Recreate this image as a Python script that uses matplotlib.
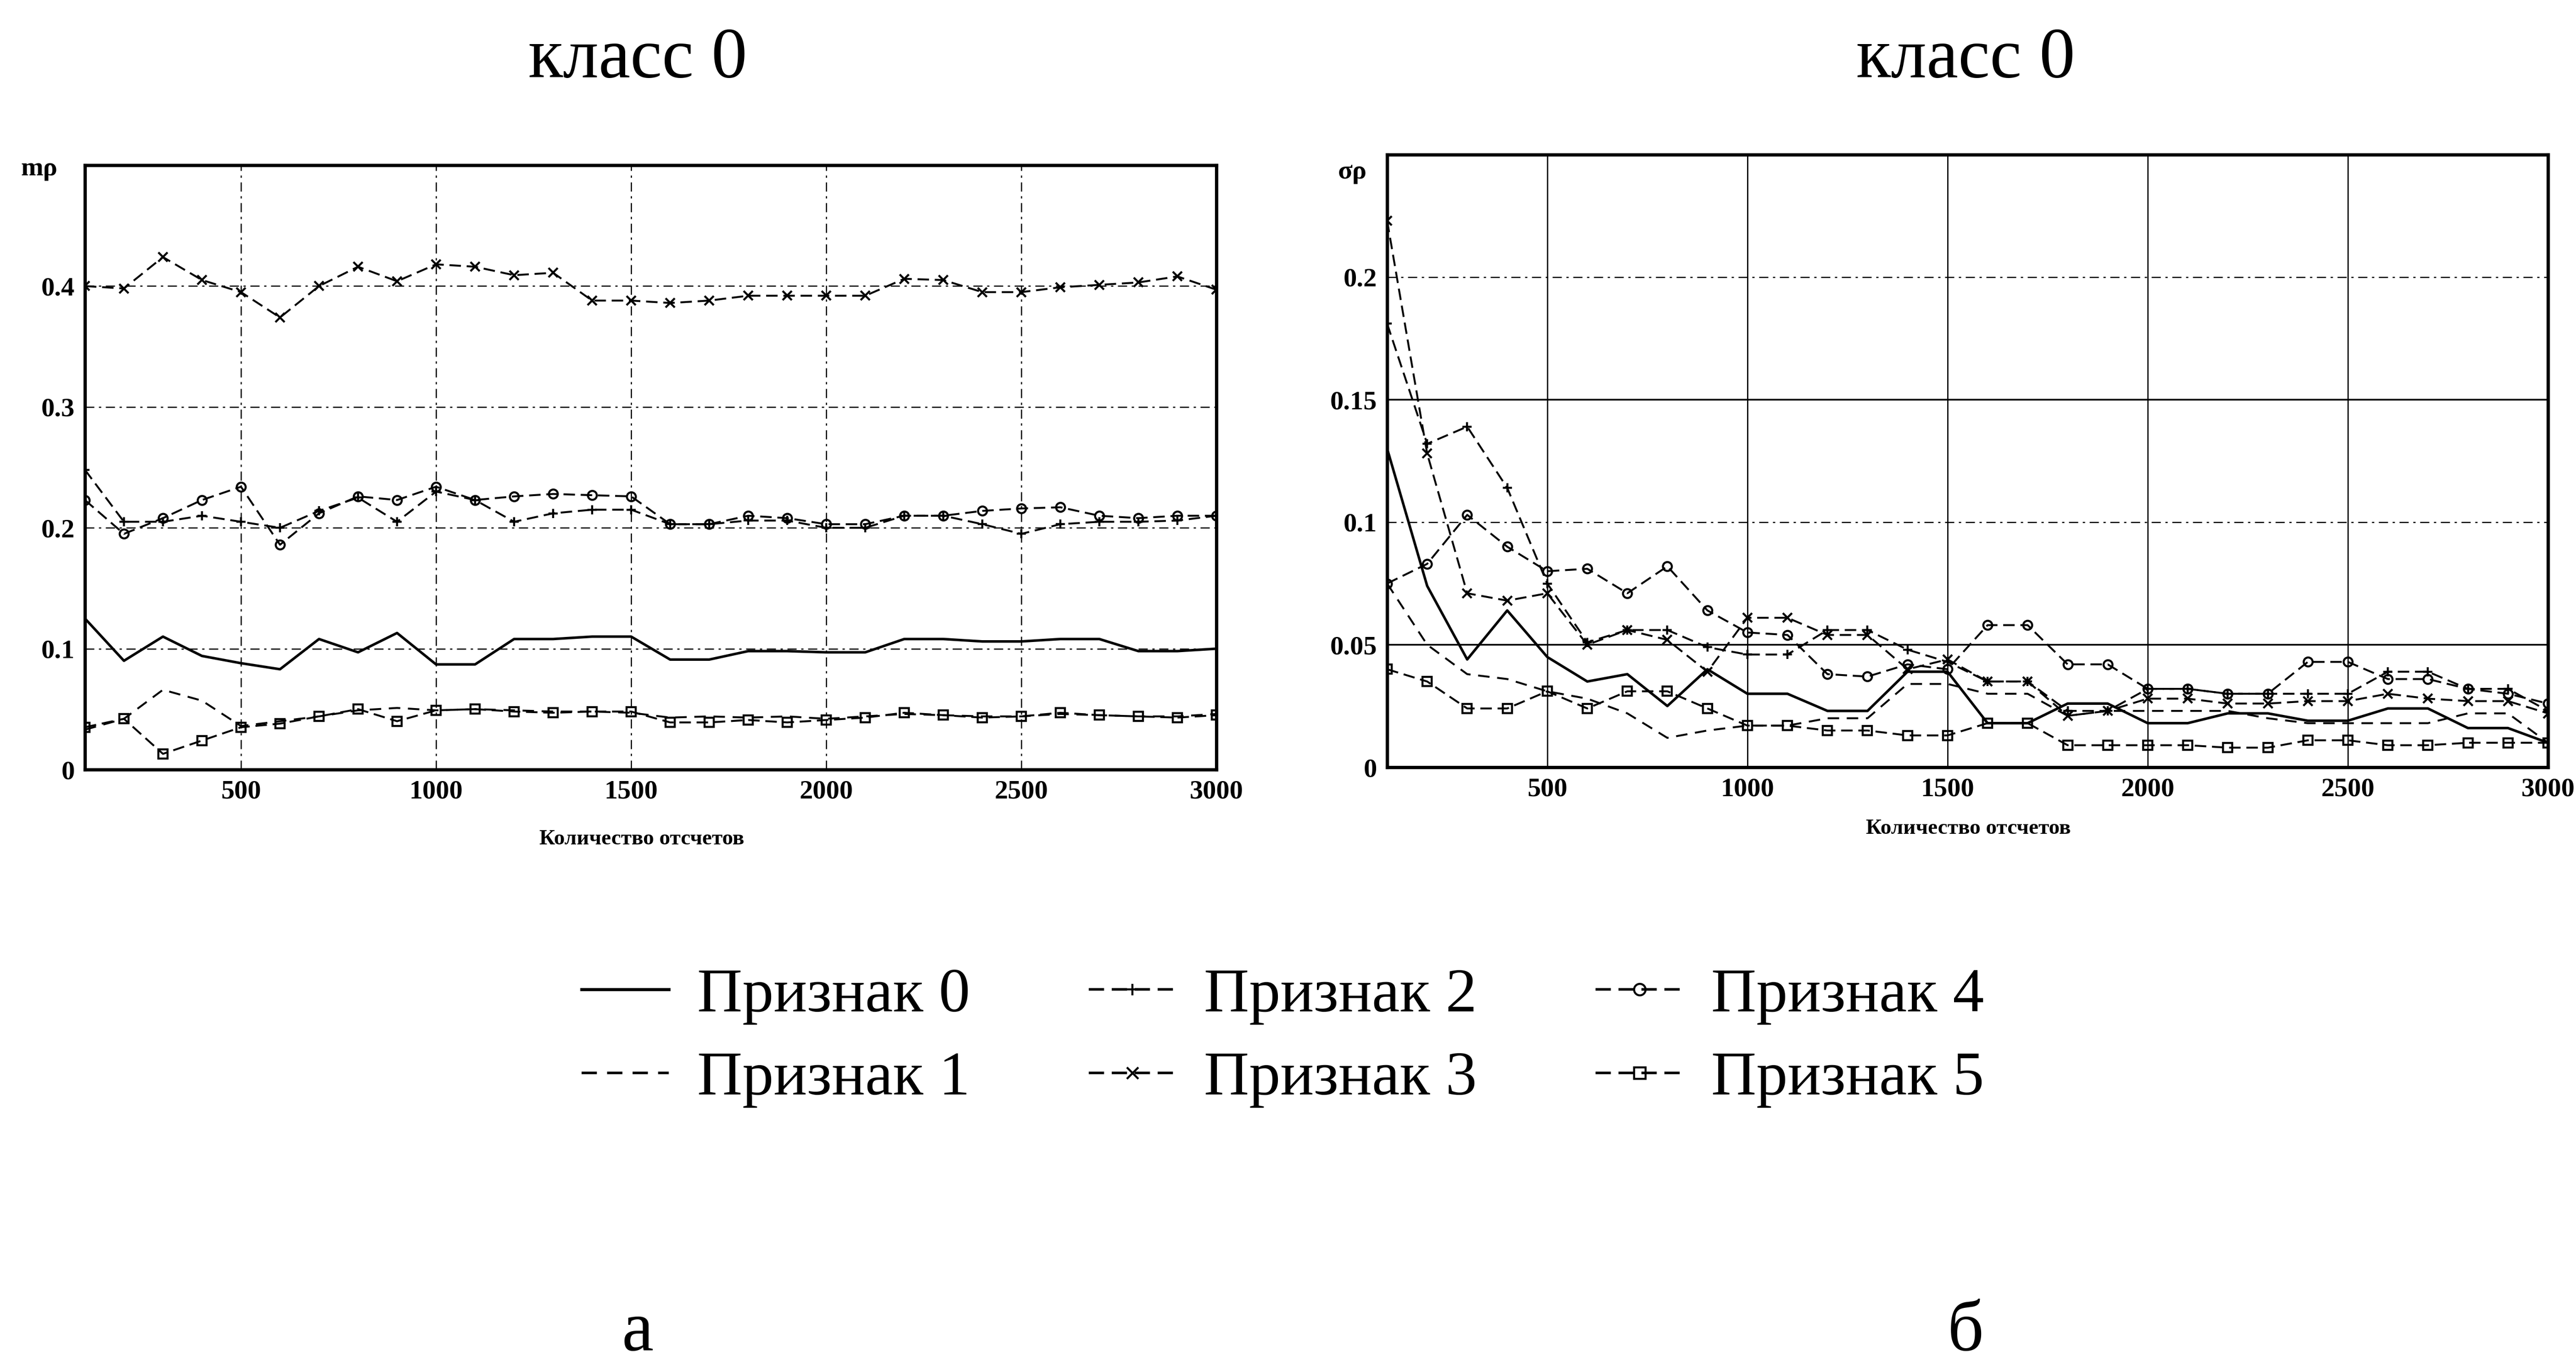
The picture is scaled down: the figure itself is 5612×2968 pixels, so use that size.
import matplotlib
matplotlib.use("Agg")
import matplotlib.pyplot as plt
import numpy as np

plt.rcParams["font.family"] = ["Liberation Serif", "DejaVu Serif"]

# ── Data: mean (mρ) and std (σρ) of features vs sample count, class 0 ────────
samples = list(range(100, 3001, 100))

mean_f0 = [0.125, 0.090, 0.110, 0.094, 0.088, 0.083, 0.108, 0.097, 0.113, 0.087,
           0.087, 0.108, 0.108, 0.110, 0.110, 0.091, 0.091, 0.098, 0.098, 0.097,
           0.097, 0.108, 0.108, 0.106, 0.106, 0.108, 0.108, 0.098, 0.098, 0.100]
mean_f1 = [0.033, 0.042, 0.066, 0.057, 0.036, 0.040, 0.044, 0.049, 0.051, 0.049,
           0.050, 0.049, 0.048, 0.048, 0.047, 0.043, 0.044, 0.043, 0.044, 0.042,
           0.044, 0.046, 0.045, 0.044, 0.044, 0.046, 0.045, 0.044, 0.044, 0.046]
mean_f2 = [0.248, 0.205, 0.205, 0.210, 0.205, 0.200, 0.214, 0.225, 0.205, 0.230,
           0.223, 0.205, 0.212, 0.215, 0.215, 0.203, 0.203, 0.206, 0.206, 0.200,
           0.200, 0.210, 0.210, 0.203, 0.195, 0.203, 0.205, 0.205, 0.206, 0.210]
mean_f3 = [0.400, 0.398, 0.424, 0.405, 0.395, 0.374, 0.400, 0.416, 0.404, 0.418,
           0.416, 0.409, 0.411, 0.388, 0.388, 0.386, 0.388, 0.392, 0.392, 0.392,
           0.392, 0.406, 0.405, 0.395, 0.395, 0.399, 0.401, 0.403, 0.408, 0.397]
mean_f4 = [0.223, 0.195, 0.208, 0.223, 0.234, 0.186, 0.212, 0.226, 0.223, 0.234,
           0.223, 0.226, 0.228, 0.227, 0.226, 0.203, 0.203, 0.210, 0.208, 0.203,
           0.203, 0.210, 0.210, 0.214, 0.216, 0.217, 0.210, 0.208, 0.210, 0.210]
mean_f5 = [0.035, 0.042, 0.013, 0.024, 0.035, 0.038, 0.044, 0.050, 0.040, 0.049,
           0.050, 0.048, 0.047, 0.048, 0.048, 0.039, 0.039, 0.041, 0.039, 0.041,
           0.043, 0.047, 0.045, 0.043, 0.044, 0.047, 0.045, 0.044, 0.043, 0.045]

std_f0 = [0.130, 0.074, 0.044, 0.064, 0.045, 0.035, 0.038, 0.025, 0.040, 0.030,
          0.030, 0.023, 0.023, 0.039, 0.039, 0.018, 0.018, 0.026, 0.026, 0.018,
          0.018, 0.022, 0.022, 0.019, 0.019, 0.024, 0.024, 0.016, 0.016, 0.010]
std_f1 = [0.075, 0.050, 0.038, 0.036, 0.031, 0.028, 0.022, 0.012, 0.015, 0.017,
          0.017, 0.020, 0.020, 0.034, 0.034, 0.030, 0.030, 0.021, 0.023, 0.023,
          0.023, 0.023, 0.020, 0.018, 0.018, 0.018, 0.018, 0.022, 0.022, 0.010]
std_f2 = [0.181, 0.132, 0.139, 0.114, 0.075, 0.051, 0.056, 0.056, 0.049, 0.046,
          0.046, 0.056, 0.056, 0.048, 0.043, 0.035, 0.035, 0.023, 0.023, 0.032,
          0.032, 0.030, 0.030, 0.030, 0.030, 0.039, 0.039, 0.032, 0.032, 0.023]
std_f3 = [0.223, 0.128, 0.071, 0.068, 0.071, 0.050, 0.056, 0.052, 0.039, 0.061,
          0.061, 0.054, 0.054, 0.040, 0.044, 0.035, 0.035, 0.021, 0.023, 0.028,
          0.028, 0.026, 0.026, 0.027, 0.027, 0.030, 0.028, 0.027, 0.027, 0.022]
std_f4 = [0.075, 0.083, 0.103, 0.090, 0.080, 0.081, 0.071, 0.082, 0.064, 0.055,
          0.054, 0.038, 0.037, 0.042, 0.040, 0.058, 0.058, 0.042, 0.042, 0.032,
          0.032, 0.030, 0.030, 0.043, 0.043, 0.036, 0.036, 0.032, 0.030, 0.026]
std_f5 = [0.040, 0.035, 0.024, 0.024, 0.031, 0.024, 0.031, 0.031, 0.024, 0.017,
          0.017, 0.015, 0.015, 0.013, 0.013, 0.018, 0.018, 0.009, 0.009, 0.009,
          0.009, 0.008, 0.008, 0.011, 0.011, 0.009, 0.009, 0.010, 0.010, 0.010]

feature_labels = ["Признак 0", "Признак 1", "Признак 2",
                  "Признак 3", "Признак 4", "Признак 5"]
x_ticks = [500, 1000, 1500, 2000, 2500, 3000]
mean_yticks = [0, 0.1, 0.2, 0.3, 0.4]
std_yticks = [0, 0.05, 0.1, 0.15, 0.2]

# line style per feature: (linestyle, marker)
styles = [
    ("-", None),
    ((0, (6, 4)), None),
    ((0, (6, 3)), "+"),
    ((0, (6, 3)), "x"),
    ((0, (6, 3)), "o"),
    ((0, (6, 3)), "s"),
]

W, H = 5612, 2968
fig = plt.figure(figsize=(W / 200, H / 200), dpi=200)


def px_axes(x0, y0, x1, y1):
    return fig.add_axes([x0 / W, 1 - y1 / H, (x1 - x0) / W, (y1 - y0) / H])


ax_m = px_axes(185, 360, 2650, 1677)
ax_s = px_axes(3022, 337, 5551, 1672)

tick_font = dict(family="Liberation Serif", weight="bold", size=21)


def draw_series(ax, series):
    handles = []
    for vals, (ls, mk), lab in zip(series, styles, feature_labels):
        lw = 2.0 if ls == "-" else 1.5
        h, = ax.plot(samples, vals, color="black", linestyle=ls, linewidth=lw,
                     marker=mk, markersize=7, markerfacecolor="none",
                     markeredgewidth=1.6, label=lab, zorder=3)
        handles.append(h)
    return handles


def style_axes(ax, yticks, ylim):
    ax.set_xlim(100, 3000)
    ax.set_ylim(*ylim)
    ax.set_xticks(x_ticks)
    ax.set_yticks(yticks)
    ax.set_xticklabels([str(t) for t in x_ticks], fontdict=tick_font)
    ax.set_yticklabels(["0" if t == 0 else f"{t:g}" for t in yticks], fontdict=tick_font)
    ax.tick_params(length=0, pad=8)
    for sp in ax.spines.values():
        sp.set_linewidth(2.6)


handles = draw_series(ax_m, [mean_f0, mean_f1, mean_f2, mean_f3, mean_f4, mean_f5])
style_axes(ax_m, mean_yticks, (0, 0.5))
for xv in x_ticks[:-1]:
    ax_m.axvline(xv, color="black", lw=0.9, ls=(0, (8, 4, 2, 4)), zorder=1)
for yv in mean_yticks[1:]:
    ax_m.axhline(yv, color="black", lw=0.9, ls=(0, (8, 4, 2, 4)), zorder=1)

draw_series(ax_s, [std_f0, std_f1, std_f2, std_f3, std_f4, std_f5])
style_axes(ax_s, std_yticks, (0, 0.25))
for xv in x_ticks[:-1]:
    ax_s.axvline(xv, color="black", lw=1.0, zorder=1)
for yv in std_yticks[1:]:
    solid = yv in (0.05, 0.15)
    ax_s.axhline(yv, color="black", lw=1.3 if solid else 0.9,
                 ls="-" if solid else (0, (8, 4, 2, 4)), zorder=1)

# axis names
fig.text(85 / W, 1 - 368 / H, "mρ", ha="center", va="center", **tick_font)
fig.text(2946 / W, 1 - 375 / H, "σρ", ha="center", va="center", **tick_font)
fig.text(1398 / W, 1 - 1829 / H, "Количество отсчетов", ha="center", va="center",
         family="Liberation Serif", weight="bold", size=17)
fig.text(4288 / W, 1 - 1806 / H, "Количество отсчетов", ha="center", va="center",
         family="Liberation Serif", weight="bold", size=17)

# panel titles and letters
for cx, letter in [(1389, "а"), (4282, "б")]:
    fig.text(cx / W, 1 - 168 / H, "класс 0", ha="center", va="baseline",
             family="Liberation Serif", size=56)
    fig.text(cx / W, 1 - 2942 / H, letter, ha="center", va="baseline",
             family="Liberation Serif", size=56)

leg = fig.legend(handles=handles, labels=feature_labels, ncol=3, frameon=False,
                 loc="center", bbox_to_anchor=(0.498, 0.238),
                 prop=dict(family="Liberation Serif", size=49),
                 handlelength=1.4, handletextpad=0.45, columnspacing=1.9,
                 labelspacing=0.42, numpoints=1)
for line in leg.get_lines():
    line.set_linewidth(2.4 if line.get_linestyle() == "-" else 2.0)
    line.set_markersize(9)

fig.savefig("out.png", dpi=200, facecolor="white")
